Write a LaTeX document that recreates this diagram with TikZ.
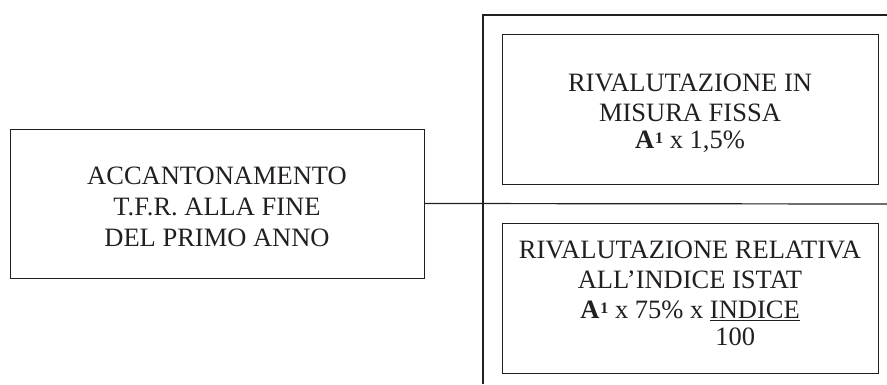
\documentclass[tikz,border=0pt]{standalone}
\usepackage{fontspec}
\setmainfont{Liberation Serif}
\usetikzlibrary{positioning}
\definecolor{ink}{HTML}{231F20}
\newcommand{\upstrut}[1]{\rule{0pt}{#1}}
\newcommand{\aone}{\textbf{A\kern1pt{\fontsize{16}{16}\selectfont\raisebox{5pt}{1}}}}
\begin{document}
\begin{tikzpicture}[x=1pt, y=-1pt,
  box/.style={draw=ink, line width=0.8pt, align=center, text=ink,
    font=\fontsize{26.5}{30}\selectfont, inner sep=0pt},
  frame/.style={draw=ink, line width=1.2pt}]
  \useasboundingbox (0,0) rectangle (887,384);

  \node[box, minimum width=414pt, minimum height=149pt] (accant) at (217,203.5)
    {\upstrut{25pt}ACCANTONAMENTO\\[1pt]T.F.R. ALLA FINE\\[1pt]DEL PRIMO ANNO};
  \node[box, minimum width=376pt, minimum height=150pt] (fissa) at (690,109)
    {\upstrut{27pt}RIVALUTAZIONE IN\\MISURA FISSA\\[-3pt]\aone{} x 1,5\%};
  \node[box, minimum width=376pt, minimum height=150pt] (istat) at (690,298)
    {RIVALUTAZIONE RELATIVA\\ALL'INDICE ISTAT\\\aone{} x 75\% x
     \begin{tabular}[t]{@{}l@{}}\underline{INDICE}\\[-3pt]\hspace{0.2em}100\end{tabular}};

  \coordinate (top) at (483,15);
  \coordinate (topend) at (887,15);
  \coordinate (bottom) at (483,384);
  \coordinate (midend) at (887,204);

  \draw[frame] (topend) -- (top) -- (bottom);
  \draw[frame] (accant.east) -- (midend);
\end{tikzpicture}
\end{document}
